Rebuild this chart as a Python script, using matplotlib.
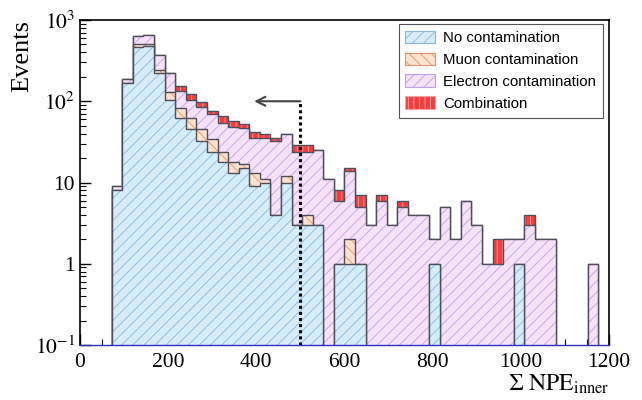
import numpy as np
import matplotlib.pyplot as plt
from matplotlib.patches import Patch
from matplotlib.ticker import FixedLocator, FixedFormatter, LogLocator, MultipleLocator, NullFormatter

plt.rcParams['font.family'] = ['Liberation Serif', 'DejaVu Serif']
plt.rcParams['mathtext.fontset'] = 'stix'
plt.rcParams['hatch.linewidth'] = 0.6

# 50 bins of width 24 between 0 and 1200
bin_edges = np.linspace(0, 1200, 51)

# events per bin
no_contam = [0, 0, 0, 8, 169, 470, 476, 225, 105, 62,
             45, 32, 24, 18, 13, 15, 9, 10, 4, 10,
             3, 3, 3, 0, 1, 1, 1, 0, 0, 0,
             0, 0, 0, 1, 0, 0, 0, 0, 0, 0,
             0, 1, 0, 0, 0, 0, 0, 0, 0, 0]
muon_contam = [0, 0, 0, 0, 0, 30, 30, 20, 24, 21,
               17, 13, 10, 6, 5, 2, 4, 1, 0, 2,
               0, 1, 0, 0, 0, 1, 0, 0, 0, 0,
               0, 0, 0, 0, 0, 0, 0, 0, 0, 0,
               0, 0, 0, 0, 0, 0, 0, 0, 0, 0]
elec_contam = [0, 0, 0, 1, 20, 130, 145, 121, 91, 50,
               43, 40, 35, 30, 30, 30, 22, 24, 28, 28,
               21, 20, 22, 11, 5, 12, 4, 3, 6, 3,
               5, 4, 4, 1, 5, 2, 6, 3, 1, 1,
               2, 1, 3, 2, 2, 0, 0, 0, 1, 0]
combination = [0, 0, 0, 0, 0, 0, 0, 0, 0, 20,
               18, 12, 6, 11, 9, 5, 7, 5, 3, 0,
               5, 5, 0, 0, 2, 1, 2, 0, 1, 0,
               1, 0, 0, 0, 0, 0, 0, 0, 0, 1,
               0, 0, 1, 0, 0, 0, 0, 0, 0, 0]

labels = ['No contamination', 'Muon contamination', 'Electron contamination', 'Combination']
face_colors = ['#d6ecf8', '#fde3cf', '#f7e1f7', '#ef4040']
hatch_colors = ['#86b8e2', '#e0916a', '#bba3ea', '#f7a0a0']
hatches = ['///', '\\\\\\', '///', '|||']
outline = '#4d4d5c'

cut_value = 500
arrow_y = 100
arrow_end = 395

fig = plt.figure(figsize=(6.42, 4.0), dpi=100)
ax = fig.add_axes([0.1246, 0.1375, 0.824, 0.8125])

# cumulative stack, drawn from the top layer down (ROOT THStack style)
cums = np.cumsum(np.array([no_contam, muon_contam, elec_contam, combination], dtype=float), axis=0)
floor = 1e-3
for i in range(3, -1, -1):
    vals = np.where(cums[i] > 0, cums[i], floor)
    ax.stairs(vals, bin_edges, baseline=floor, fill=True, facecolor=face_colors[i],
              edgecolor=hatch_colors[i], hatch=hatches[i], linewidth=0)
    ax.stairs(vals, bin_edges, baseline=floor, color=outline, linewidth=1.0)

# cut line with arrow
ax.plot([cut_value, cut_value], [0.1, arrow_y], color='k', lw=2.2, ls=(0, (1, 1)), zorder=5)
ax.annotate('', xy=(arrow_end, arrow_y), xytext=(cut_value, arrow_y),
            arrowprops=dict(arrowstyle='->', color='#444444', lw=1.5, mutation_scale=16,
                            shrinkA=0, shrinkB=0), zorder=5)

ax.set_yscale('log')
ax.set_xlim(0, 1200)
ax.set_ylim(0.1, 1000)

ax.set_axisbelow(True)
ax.xaxis.set_major_locator(MultipleLocator(200))
ax.xaxis.set_minor_locator(MultipleLocator(50))
ax.yaxis.set_major_locator(FixedLocator([0.1, 1, 10, 100, 1000]))
ax.yaxis.set_major_formatter(FixedFormatter([r'$10^{-1}$', '1', '10', r'$10^{2}$', r'$10^{3}$']))
ax.yaxis.set_minor_locator(LogLocator(base=10, subs=np.arange(2, 10)))
ax.yaxis.set_minor_formatter(NullFormatter())
ax.tick_params(which='both', direction='in', top=False, right=False, labelsize=15.5)
ax.tick_params(which='major', length=8, width=1)
ax.tick_params(which='minor', length=4, width=0.8)
ax.tick_params(axis='x', pad=6)

for s in ['top', 'right', 'left']:
    ax.spines[s].set_color('black')
    ax.spines[s].set_linewidth(1.2)
ax.spines['bottom'].set_color('#3030c0')
ax.spines['bottom'].set_linewidth(1.0)

ax.set_ylabel('Events', fontsize=19, loc='top', labelpad=1)
ax.set_xlabel(r'$\Sigma\ \mathrm{NPE}_{\mathrm{inner}}$', fontsize=17, loc='right', labelpad=0)

handles = [Patch(facecolor=face_colors[i], edgecolor=hatch_colors[i], hatch=hatches[i], lw=0.8)
           for i in range(4)]
leg = ax.legend(handles, labels, loc='upper right', bbox_to_anchor=(0.988, 0.988),
                prop={'family': 'Liberation Sans', 'size': 10.8}, fancybox=False,
                edgecolor='#555555', framealpha=1, handlelength=2.0, handleheight=0.9,
                handletextpad=0.5, labelspacing=0.5, borderpad=0.45, borderaxespad=0)
leg.get_frame().set_linewidth(0.8)

fig.savefig('out.png', dpi=100)
